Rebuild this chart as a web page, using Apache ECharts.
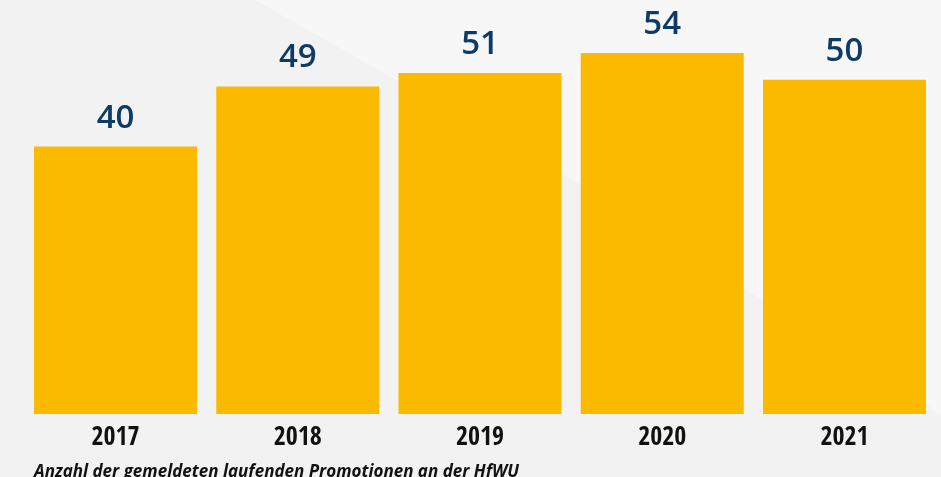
<!DOCTYPE html>
<html>
<head>
<meta charset="utf-8">
<script src="https://cdn.jsdelivr.net/npm/echarts@6/dist/echarts.min.js"></script>
<style>
html,body{margin:0;padding:0;background:#f2f2f2;}
#chart{width:941px;height:477px;}
</style>
</head>
<body>
<div id="chart"></div>
<script>
const categories = ['2017', '2018', '2019', '2020', '2021'];
const values = [40, 49, 51, 54, 50];
const caption = 'Anzahl der gemeldeten laufenden Promotionen an der HfWU';

const chart = echarts.init(document.getElementById('chart'));
chart.setOption({
  backgroundColor: '#f2f2f2',
  animation: false,
  graphic: [{
    type: 'polygon',
    z: -10,
    silent: true,
    shape: { points: [[255, 0], [941, 0], [941, 416], [927, 405], [580, 184]] },
    style: { fill: '#f7f7f7' }
  }],
  title: {
    text: caption,
    left: 29,
    top: 459,
    textStyle: {
      fontFamily: 'Open Sans',
      fontStyle: 'italic',
      fontWeight: 'bold',
      fontSize: 17,
      color: '#111111'
    }
  },
  grid: { left: 24.4, right: 5.4, top: 12.9, bottom: 63, containLabel: false },
  xAxis: {
    type: 'category',
    data: categories,
    axisLine: { show: false },
    axisTick: { show: false },
    axisLabel: {
      margin: 11,
      fontFamily: "'Open Sans Condensed', 'Open Sans'",
      fontWeight: 'bold',
      fontSize: 26,
      color: '#111111'
    }
  },
  yAxis: {
    type: 'value',
    min: 0,
    max: 60,
    show: false,
    splitLine: { show: false }
  },
  series: [{
    type: 'bar',
    data: values,
    barWidth: 163,
    itemStyle: { color: '#FBBA00' },
    label: {
      show: true,
      position: 'top',
      distance: 12,
      fontFamily: 'Open Sans',
      fontWeight: 600,
      fontSize: 33,
      color: '#0e3a66'
    }
  }]
});
</script>
</body>
</html>
